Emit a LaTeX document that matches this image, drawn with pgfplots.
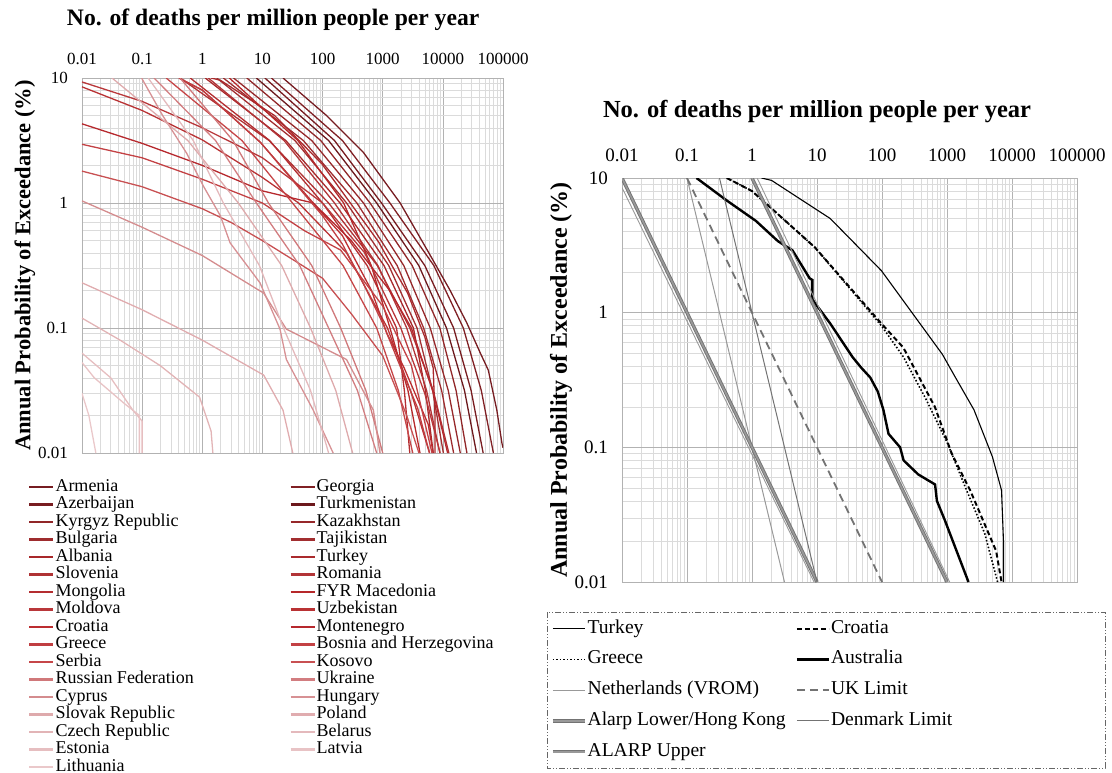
\documentclass[border=0pt]{standalone}
\usepackage{pgfplots}
\pgfplotsset{compat=1.18}
\usepackage{fontspec}
\setmainfont{Liberation Serif}

\definecolor{c1}{RGB}{118,28,33}
\definecolor{c2}{RGB}{128,32,36}
\definecolor{c3}{RGB}{120,28,32}
\definecolor{c4}{RGB}{108,24,28}
\definecolor{c5}{RGB}{145,38,40}
\definecolor{c6}{RGB}{150,40,42}
\definecolor{c7}{RGB}{158,44,46}
\definecolor{c8}{RGB}{162,46,48}
\definecolor{c9}{RGB}{168,40,42}
\definecolor{c10}{RGB}{170,42,45}
\definecolor{c11}{RGB}{175,50,52}
\definecolor{c12}{RGB}{178,52,55}
\definecolor{c13}{RGB}{180,45,48}
\definecolor{c14}{RGB}{182,40,42}
\definecolor{c15}{RGB}{185,55,58}
\definecolor{c16}{RGB}{185,50,52}
\definecolor{c17}{RGB}{188,45,48}
\definecolor{c18}{RGB}{182,40,45}
\definecolor{c19}{RGB}{192,62,65}
\definecolor{c20}{RGB}{195,65,68}
\definecolor{c21}{RGB}{198,70,72}
\definecolor{c22}{RGB}{200,80,82}
\definecolor{c23}{RGB}{208,120,122}
\definecolor{c24}{RGB}{210,125,128}
\definecolor{c25}{RGB}{212,140,142}
\definecolor{c26}{RGB}{215,145,148}
\definecolor{c27}{RGB}{222,170,172}
\definecolor{c28}{RGB}{224,172,175}
\definecolor{c29}{RGB}{226,180,182}
\definecolor{c30}{RGB}{228,185,188}
\definecolor{c31}{RGB}{230,190,192}
\definecolor{c32}{RGB}{232,195,197}
\definecolor{c33}{RGB}{234,200,202}

\newcommand{\lc}[1]{\makebox[233pt][l]{#1}}
\newcommand{\ra}[1]{\makebox[207pt][l]{#1}}
\newcommand{\rb}[1]{\makebox[259pt][l]{#1}}

\begin{document}
\begin{tikzpicture}
\useasboundingbox (0pt,0pt) rectangle (1112pt,-773pt);

% ---------------- left chart ----------------
\begin{axis}[
  scale only axis, xmode=log, ymode=log,
  xmin=0.01, xmax=100000, ymin=0.01, ymax=10,
  xtick={0.01,0.1,1,10,100,1000,10000,100000},
  xticklabels={0.01,0.1,1,10,100,1000,10000,100000},
  ytick={0.01,0.1,1,10},
  yticklabels={0.01,0.1,1,10},
  minor xtick={0.02,0.03,0.04,0.05,0.06,0.07,0.08,0.09,0.2,0.3,0.4,0.5,0.6,0.7,0.8,0.9,2,3,4,5,6,7,8,9,20,30,40,50,60,70,80,90,200,300,400,500,600,700,800,900,2000,3000,4000,5000,6000,7000,8000,9000,20000,30000,40000,50000,60000,70000,80000,90000},
  minor ytick={0.02,0.03,0.04,0.05,0.06,0.07,0.08,0.09,0.2,0.3,0.4,0.5,0.6,0.7,0.8,0.9,2,3,4,5,6,7,8,9},
  grid=both,
  major grid style={draw=black!30, line width=0.6pt},
  minor grid style={draw=black!14, line width=0.5pt},
  axis line style={draw=black!30, line width=0.6pt},
  major tick length=0pt, minor tick length=0pt,
  xticklabel pos=upper,
  at={(82pt,-453pt)}, anchor=south west,
  width=421pt, height=375pt,
  xticklabel style={font=\fontsize{17}{17}\selectfont, anchor=base, yshift=14pt},
  yticklabel style={font=\fontsize{17}{17}\selectfont, anchor=east, inner sep=0pt, xshift=-14pt},
  title={No. of deaths per million people per year},
  title style={font=\bfseries\fontsize{23.6}{23.6}\selectfont, at={(axis description cs:0.454,1)}, anchor=center, yshift=52pt},
  ylabel={Annual Probability of Exceedance (\%)},
  ylabel style={font=\bfseries\fontsize{22.5}{22.5}\selectfont, at={(axis description cs:-0.1354,0.5)}, anchor=center},
  legend columns=2,
  legend cell align=left,
  legend style={at={(axis description cs:-0.128,-0.0667)}, anchor=north west, draw=none, fill=none,
    inner sep=0pt, row sep=0pt, font=\fontsize{18}{18}\selectfont,
    nodes={inner xsep=1pt, inner ysep=0pt, text height=13pt, text depth=4.5pt}},
  legend image code/.code={\draw[#1, line width=2.2pt] (0pt,0pt) -- (24pt,0pt);},
]
\addplot[c1, line width=1.3pt] coordinates {(22,10) (117,5) (480,2.53) (1950,1) (6200,0.38) (13200,0.2) (25000,0.11) (42000,0.063) (57000,0.046) (79000,0.022) (96000,0.012) (100000,0.011)};
\addlegendentry{\lc{Armenia}}
\addplot[c2, line width=1.3pt] coordinates {(14.1,10) (214,3.16) (1318,1) (7080,0.316) (21900,0.1) (43600,0.0316) (69200,0.01)};
\addlegendentry{Georgia}
\addplot[c3, line width=1.3pt] coordinates {(11,10) (158,3.16) (955,1) (5010,0.316) (15100,0.1) (29500,0.0316) (46800,0.01)};
\addlegendentry{\lc{Azerbaijan}}
\addplot[c4, line width=1.3pt] coordinates {(7.94,10) (126,3.16) (794,1) (3980,0.316) (11500,0.1) (22900,0.0316) (36300,0.01)};
\addlegendentry{Turkmenistan}
\addplot[c5, line width=1.3pt] coordinates {(5.5,10) (93.3,3.16) (617,1) (3090,0.316) (8910,0.1) (16600,0.0316) (25100,0.01)};
\addlegendentry{\lc{Kyrgyz Republic}}
\addplot[c6, line width=1.3pt] coordinates {(3.31,10) (66.1,3.16) (479,1) (2240,0.316) (6170,0.1) (12300,0.0316) (19500,0.01)};
\addlegendentry{Kazakhstan}
\addplot[c7, line width=1.3pt] coordinates {(2.24,10) (47.9,3.16) (372,1) (1740,0.316) (4790,0.1) (9550,0.0316) (15100,0.01)};
\addlegendentry{\lc{Bulgaria}}
\addplot[c8, line width=1.3pt] coordinates {(1.74,10) (34.7,3.16) (251,1) (1260,0.316) (3720,0.1) (6760,0.0316) (10200,0.01)};
\addlegendentry{Tajikistan}
\addplot[c9, line width=1.3pt] coordinates {(1.12,10) (24.5,3.16) (195,1) (1050,0.316) (3240,0.1) (5130,0.0316) (6920,0.01)};
\addlegendentry{\lc{Albania}}
\addplot[c10, line width=1.3pt] coordinates {(1.4,10) (2,9.6) (16,5) (98,2.05) (850,0.49) (1350,0.33) (2600,0.19) (5000,0.085) (6900,0.048) (7400,0.02) (7400,0.01)};
\addlegendentry{Turkey}
\addplot[c11, line width=1.3pt] coordinates {(0.427,10) (12.9,3.16) (126,1) (813,0.316) (2820,0.1) (6920,0.0316) (12600,0.01)};
\addlegendentry{\lc{Slovenia}}
\addplot[c12, line width=1.3pt] coordinates {(1.26,10) (22.9,3.16) (158,1) (832,0.316) (2510,0.1) (5370,0.0316) (8910,0.01)};
\addlegendentry{Romania}
\addplot[c13, line width=1.3pt] coordinates {(0.631,10) (13.2,3.16) (100,1) (550,0.316) (1700,0.1) (2290,0.0316) (2820,0.01)};
\addlegendentry{\lc{Mongolia}}
\addplot[c14, line width=1.3pt] coordinates {(2.82,10) (38.9,3.16) (224,1) (646,0.316) (1320,0.1) (2630,0.0316) (4170,0.01)};
\addlegendentry{FYR Macedonia}
\addplot[c15, line width=1.3pt] coordinates {(0.01,9.3) (0.1,6.5) (1,4) (10,2.3) (100,1) (500,0.4) (2000,0.1) (5000,0.03) (9000,0.01)};
\addlegendentry{\lc{Moldova}}
\addplot[c16, line width=1.3pt] coordinates {(0.01,8.5) (0.1,5.5) (1,3.2) (10,1.6) (40,1) (250,0.4) (1200,0.1) (3000,0.03) (6000,0.01)};
\addlegendentry{Uzbekistan}
\addplot[c17, line width=1.3pt] coordinates {(0.41,10) (1,8) (2.2,5.7) (9.3,3.05) (98,0.83) (213,0.55) (650,0.2) (1180,0.09) (2270,0.048) (5700,0.017) (6900,0.01)};
\addlegendentry{\lc{Croatia}}
\addplot[c18, line width=1.3pt] coordinates {(0.01,4.3) (0.1,3.0) (1,2.0) (10,1.25) (70,1) (300,0.5) (1300,0.2) (3000,0.1) (7000,0.03) (12000,0.01)};
\addlegendentry{Montenegro}
\addplot[c19, line width=1.3pt] coordinates {(0.41,10) (1,8) (2.2,5.7) (9.3,3.05) (98,0.8) (213,0.47) (470,0.23) (1020,0.107) (2000,0.048) (3800,0.023) (6000,0.01)};
\addlegendentry{\lc{Greece}}
\addplot[c20, line width=1.3pt] coordinates {(0.01,2.95) (0.1,2.3) (1,1.55) (10,1.0) (50,0.6) (200,0.42) (1000,0.15) (3000,0.05) (6600,0.01)};
\addlegendentry{Bosnia and Herzegovina}
\addplot[c21, line width=1.3pt] coordinates {(0.251,10) (4.57,3.16) (31.6,1) (219,0.316) (794,0.1) (1820,0.0316) (3160,0.01)};
\addlegendentry{\lc{Serbia}}
\addplot[c22, line width=1.3pt] coordinates {(0.01,1.8) (0.1,1.35) (1,0.9) (3,0.7) (10,0.5) (40,0.33) (100,0.25) (300,0.13) (1000,0.06) (2500,0.02) (4000,0.01)};
\addlegendentry{Kosovo}
\addplot[c23, line width=1.3pt] coordinates {(0.427,10) (3.24,3.16) (12.6,1) (66.1,0.316) (200,0.1) (525,0.0316) (1000,0.01)};
\addlegendentry{\lc{Russian Federation}}
\addplot[c24, line width=1.3pt] coordinates {(0.158,10) (1.66,3.16) (7.94,1) (41.7,0.316) (126,0.1) (380,0.0316) (794,0.01)};
\addlegendentry{Ukraine}
\addplot[c25, line width=1.3pt] coordinates {(0.01,1.04) (0.1,0.64) (1,0.38) (10.5,0.19) (25,0.098) (250,0.056) (700,0.022) (900,0.01)};
\addlegendentry{\lc{Cyprus}}
\addplot[c26, line width=1.3pt] coordinates {(0.098,10) (0.22,5) (0.55,2.5) (1.04,1.37) (2,0.79) (2.9,0.48) (9.1,0.23) (19.6,0.098) (25,0.056) (70,0.022) (150,0.01)};
\addlegendentry{Hungary}
\addplot[c27, line width=1.3pt] coordinates {(0.0316,10) (0.575,3.16) (3.98,1) (20.9,0.316) (63.1,0.1) (166,0.0316) (316,0.01)};
\addlegendentry{\lc{Slovak Republic}}
\addplot[c28, line width=1.3pt] coordinates {(0.01,0.23) (0.1,0.14) (1,0.08) (10.5,0.042) (22,0.022) (32,0.01)};
\addlegendentry{Poland}
\addplot[c29, line width=1.3pt] coordinates {(0.01,0.12) (0.043,0.08) (0.2,0.05) (0.9,0.028) (1.4,0.015) (1.5,0.01)};
\addlegendentry{\lc{Czech Republic}}
\addplot[c30, line width=1.3pt] coordinates {(0.126,10) (0.708,3.16) (2.24,1) (8.91,0.316) (22.4,0.1) (63.1,0.0316) (126,0.01)};
\addlegendentry{Belarus}
\addplot[c31, line width=1.3pt] coordinates {(0.01,0.063) (0.03,0.04) (0.07,0.022) (0.1,0.018) (0.1,0.01)};
\addlegendentry{\lc{Estonia}}
\addplot[c32, line width=1.3pt] coordinates {(0.01,0.053) (0.016,0.04) (0.05,0.025) (0.09,0.02) (0.09,0.01)};
\addlegendentry{Latvia}
\addplot[c33, line width=1.3pt] coordinates {(0.01,0.03) (0.013,0.02) (0.017,0.01)};
\addlegendentry{\lc{Lithuania}}
\end{axis}

% ---------------- right chart ----------------
\begin{axis}[
  scale only axis, xmode=log, ymode=log,
  xmin=0.01, xmax=100000, ymin=0.01, ymax=10,
  xtick={0.01,0.1,1,10,100,1000,10000,100000},
  xticklabels={0.01,0.1,1,10,100,1000,10000,100000},
  ytick={0.01,0.1,1,10},
  yticklabels={0.01,0.1,1,10},
  minor xtick={0.02,0.03,0.04,0.05,0.06,0.07,0.08,0.09,0.2,0.3,0.4,0.5,0.6,0.7,0.8,0.9,2,3,4,5,6,7,8,9,20,30,40,50,60,70,80,90,200,300,400,500,600,700,800,900,2000,3000,4000,5000,6000,7000,8000,9000,20000,30000,40000,50000,60000,70000,80000,90000},
  minor ytick={0.02,0.03,0.04,0.05,0.06,0.07,0.08,0.09,0.2,0.3,0.4,0.5,0.6,0.7,0.8,0.9,2,3,4,5,6,7,8,9},
  grid=both,
  major grid style={draw=black!30, line width=0.6pt},
  minor grid style={draw=black!14, line width=0.5pt},
  axis line style={draw=black!30, line width=0.6pt},
  major tick length=0pt, minor tick length=0pt,
  xticklabel pos=upper,
  at={(622pt,-582pt)}, anchor=south west,
  width=455pt, height=404pt,
  xticklabel style={font=\fontsize{19}{19}\selectfont, anchor=base, yshift=16.5pt},
  yticklabel style={font=\fontsize{19}{19}\selectfont, anchor=east, inner sep=0pt, xshift=-14pt},
  title={No. of deaths per million people per year},
  title style={font=\bfseries\fontsize{24.5}{24.5}\selectfont, at={(axis description cs:0.4286,1)}, anchor=center, yshift=60pt},
  ylabel={Annual Probability of Exceedance (\%)},
  ylabel style={font=\bfseries\fontsize{24}{24}\selectfont, at={(axis description cs:-0.134,0.5)}, anchor=center},
  legend columns=2,
  legend cell align=left,
  legend style={at={(axis description cs:-0.1648,-0.0743)}, anchor=north west,
    draw=none, fill=none,
    inner xsep=4pt, inner ysep=8pt, row sep=13.75pt, font=\fontsize{19.6}{19.6}\selectfont,
    nodes={inner xsep=1pt, inner ysep=0pt, text height=13pt, text depth=4pt}},
  legend image code/.code={\draw[#1] (0pt,0pt) -- (32pt,0pt);},
]
\addplot[black, line width=1.1pt] coordinates {(1.4,10) (2,9.6) (16,5) (98,2.05) (850,0.49) (1350,0.33) (2600,0.19) (5000,0.085) (6900,0.048) (7400,0.02) (7400,0.01)};
\addlegendentry{\ra{Turkey}}
\addplot[black, line width=2pt, dash pattern=on 5pt off 3pt] coordinates {(0.41,10) (1,8) (2.2,5.7) (9.3,3.05) (98,0.83) (213,0.55) (650,0.2) (1180,0.09) (2270,0.048) (5700,0.017) (6900,0.01)};
\addlegendentry{\rb{Croatia}}
\addplot[black, line width=1.6pt, dash pattern=on 1.5pt off 2pt] coordinates {(0.41,10) (1,8) (2.2,5.7) (9.3,3.05) (98,0.8) (213,0.47) (470,0.23) (1020,0.107) (2000,0.048) (3800,0.023) (6000,0.01)};
\addlegendentry{\ra{Greece}}
\addplot[black, line width=2.4pt] coordinates {(0.14,10) (0.41,6.8) (1.15,4.8) (2.5,3.4) (4.2,2.9) (7.7,1.8) (8.5,1.75) (8.5,1.25) (16,0.83) (35,0.47) (48,0.39) (66,0.33) (86,0.26) (105,0.19) (126,0.126) (190,0.1) (215,0.08) (360,0.063) (655,0.053) (700,0.04) (920,0.029) (2140,0.01)};
\addlegendentry{\rb{Australia}}
\addplot[black!40, line width=1pt] coordinates {(0.1,10) (3.16,0.01)};
\addlegendentry{\ra{Netherlands (VROM)}}
\addplot[black!55, line width=1.8pt, dash pattern=on 8pt off 5pt] coordinates {(0.1,10) (100,0.01)};
\addlegendentry{\rb{UK Limit}}
\addplot[black!55, double=black!40, double distance=1.6pt, line width=0.9pt] coordinates {(0.01,10) (10,0.01)};
\addlegendentry{\ra{Alarp Lower/Hong Kong}}
\addplot[black!55, line width=1pt] coordinates {(0.316,10) (10,0.01)};
\addlegendentry{\rb{Denmark Limit}}
\addplot[black!55, double=black!40, double distance=1.6pt, line width=0.9pt] coordinates {(1,10) (1000,0.01)};
\addlegendentry{\ra{ALARP Upper}}
\addplot[black!40, line width=0.9pt, forget plot] coordinates {(0.01,8.5) (9,0.01)};
\addplot[black!40, line width=0.9pt, forget plot] coordinates {(1.2,10) (1100,0.01)};
\end{axis}
% border of the right legend
\draw[black!60, line width=0.8pt, dash pattern=on 6pt off 2pt on 1pt off 2pt on 1pt off 2pt] (547pt,-612pt) rectangle (1105pt,-768pt);
\end{tikzpicture}
\end{document}
